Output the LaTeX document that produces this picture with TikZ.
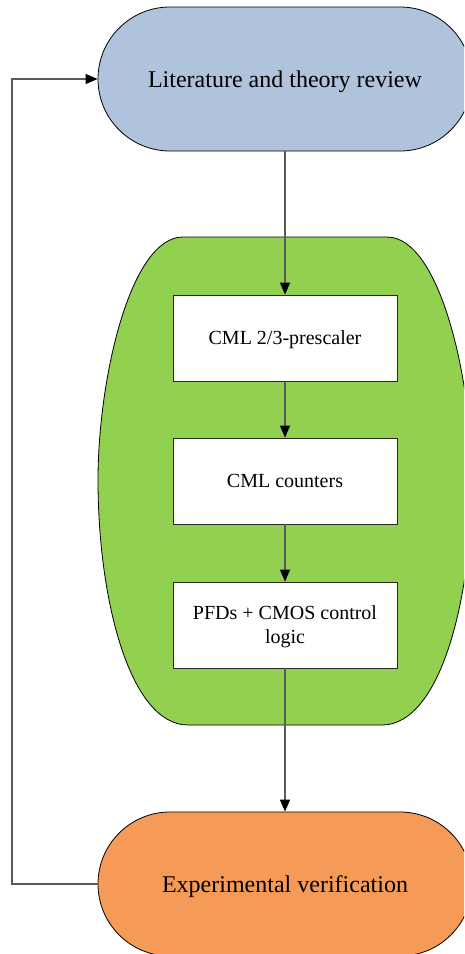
\documentclass[tikz,border=0pt]{standalone}
\usepackage{fontspec}
\setmainfont{Liberation Serif}
\usetikzlibrary{arrows.meta}
\definecolor{litblue}{HTML}{B0C3DC}
\definecolor{cmlgreen}{HTML}{92D050}
\definecolor{exporange}{HTML}{F59B57}
\definecolor{wire}{HTML}{5A5A5A}
\tikzset{
  stadium/.style={draw=black, line width=0.8pt, rounded corners=72pt,
    minimum width=374pt, minimum height=144pt, inner sep=0pt, text depth=0pt,
    font=\fontsize{24}{28.8}\selectfont},
  blockbox/.style={draw=black!85, line width=0.8pt, fill=white,
    minimum width=224pt, minimum height=86pt, inner sep=0pt, align=center,
    text depth=0pt, font=\fontsize{20}{24}\selectfont},
  flow/.style={draw=wire, line width=1.1pt, -{Triangle[length=12pt,width=10pt,color=black]}}
}
\begin{document}
\begin{tikzpicture}[x=1pt, y=-1pt]
  \useasboundingbox (0,0) rectangle (464,954);
  \clip (0,0) rectangle (464,954);
  \fill[white] (0,0) rectangle (464,954);

  % rounded container holding the circuit blocks
  \draw[fill=cmlgreen, draw=black, line width=0.8pt]
    (183,237) -- (387,237)
    .. controls (440,237) and (472,380) .. (472,480)
    .. controls (472,600) and (440,725) .. (382,725)
    -- (188,725)
    .. controls (130,725) and (98,600) .. (98,480)
    .. controls (98,380) and (130,237) .. (183,237) -- cycle;

  \node[stadium, fill=litblue] (lit) at (285,79) {Literature and theory review};
  \node[stadium, fill=exporange] (exp) at (285,884) {Experimental verification};

  \node[blockbox] (pre) at (285,338) {CML 2/3-prescaler};
  \node[blockbox] (cnt) at (285,481) {CML counters};
  \node[blockbox] (pfd) at (285,625) {PFDs + CMOS control\\logic};

  \draw[flow] (lit.south) -- (pre.north);
  \draw[flow] (pre.south) -- (cnt.north);
  \draw[flow] (cnt.south) -- (pfd.north);
  \draw[flow] (pfd.south) -- (exp.north);

  \coordinate (loop) at (12,884);
  \draw[flow] (exp.west) -- (loop) |- (lit.west);
\end{tikzpicture}
\end{document}
